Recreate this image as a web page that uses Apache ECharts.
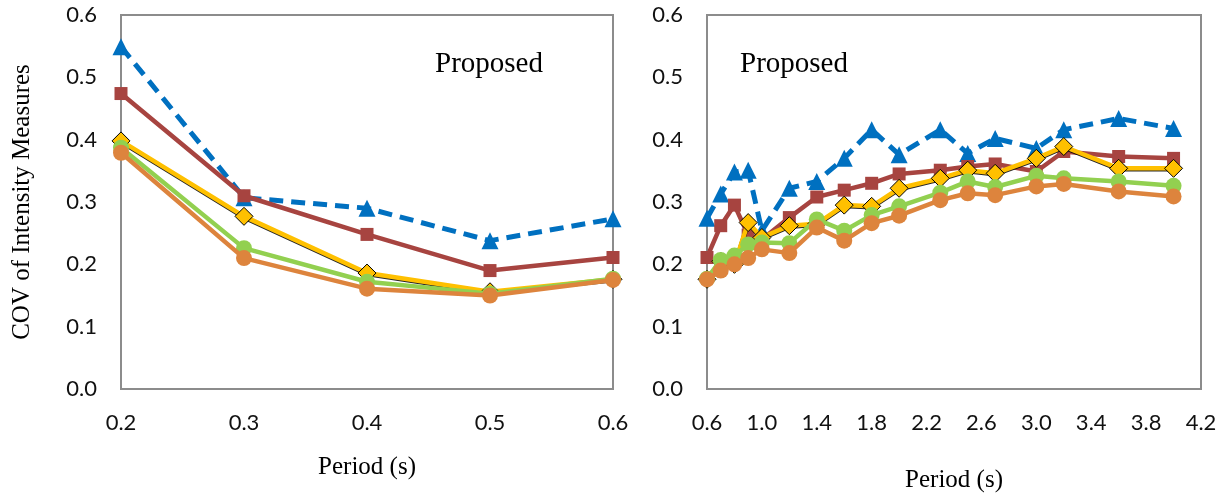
<!DOCTYPE html>
<html>
<head>
<meta charset="utf-8">
<script src="https://cdn.jsdelivr.net/npm/echarts@6/dist/echarts.min.js"></script>
<style>
  html, body { margin: 0; padding: 0; background: #fff; }
  #chart { width: 1224px; height: 494px; }
</style>
</head>
<body>
<div id="chart"></div>
<script>
// COV of intensity measures vs period, two panels
var periodsL = [0.2, 0.3, 0.4, 0.5, 0.6];
var periodsR = [0.6, 0.7, 0.8, 0.9, 1.0, 1.2, 1.4, 1.6, 1.8, 2.0, 2.3, 2.5, 2.7, 3.0, 3.2, 3.6, 4.0];

var blueL   = [0.549, 0.307, 0.290, 0.238, 0.273];
var redL    = [0.474, 0.310, 0.248, 0.190, 0.211];
var yellowL = [0.398, 0.277, 0.186, 0.156, 0.176];
var greenL  = [0.387, 0.226, 0.172, 0.153, 0.177];
var orangeL = [0.379, 0.210, 0.161, 0.150, 0.175];

var blueR   = [0.274, 0.313, 0.348, 0.351, 0.254, 0.322, 0.333, 0.370, 0.416, 0.376, 0.416, 0.378, 0.402, 0.386, 0.416, 0.434, 0.418];
var redR    = [0.211, 0.262, 0.295, 0.247, 0.240, 0.275, 0.308, 0.319, 0.330, 0.345, 0.351, 0.357, 0.361, 0.349, 0.381, 0.373, 0.370];
var yellowR = [0.176, 0.205, 0.200, 0.267, 0.243, 0.262, 0.265, 0.295, 0.293, 0.322, 0.338, 0.351, 0.346, 0.370, 0.389, 0.354, 0.354];
var greenR  = [0.177, 0.207, 0.214, 0.232, 0.235, 0.234, 0.272, 0.254, 0.279, 0.293, 0.315, 0.333, 0.324, 0.342, 0.338, 0.333, 0.326];
var orangeR = [0.176, 0.190, 0.200, 0.210, 0.224, 0.218, 0.259, 0.238, 0.266, 0.278, 0.303, 0.314, 0.311, 0.325, 0.329, 0.317, 0.309];

var blue = '#0070C0', red = '#A74440', yellow = '#FFC000', green = '#92D050', orange = '#DD843D';
var frame = '#8c8c8c';
var labelFont = 'Lato';
var serif = 'Liberation Serif';

function pairs(xs, ys) {
  return xs.map(function(x, i) { return [x, ys[i]]; });
}

function styles() {
  return [
    { name: 'IM 1', color: blue, symbol: 'triangle', size: 17, dash: [14, 8], width: 5 },
    { name: 'IM 2', color: red, symbol: 'rect', size: 13, width: 4.5 },
    { name: 'IM 3', color: yellow, symbol: 'diamond', size: 18, width: 4.5, border: '#000' },
    { name: 'IM 4', color: green, symbol: 'circle', size: 16, width: 4.5 },
    { name: 'IM 5', color: orange, symbol: 'circle', size: 16, width: 4.5 }
  ];
}

function makeSeries(idx, xs, sets) {
  return styles().map(function(s, i) {
    return {
      name: s.name,
      type: 'line',
      xAxisIndex: idx,
      yAxisIndex: idx,
      data: pairs(xs, sets[i]),
      symbol: s.symbol,
      symbolSize: s.size,
      showAllSymbol: true,
      z: 2 + i,
      lineStyle: {
        color: s.color,
        width: s.width,
        type: s.dash || 'solid',
        shadowColor: s.border ? 'rgba(0,0,0,0.85)' : 'transparent',
        shadowBlur: 0,
        shadowOffsetY: s.border ? 1 : 0
      },
      itemStyle: {
        color: s.color,
        borderColor: s.border || s.color,
        borderWidth: s.border ? 1 : 0
      }
    };
  });
}

function yAxisFor(idx, name) {
  return {
    type: 'value',
    gridIndex: idx,
    min: 0, max: 0.6, interval: 0.1,
    name: name,
    nameLocation: 'middle',
    nameGap: 86,
    nameTextStyle: { fontFamily: serif, fontSize: 25, color: '#000' },
    axisLine: { show: false },
    axisTick: { show: false },
    splitLine: { show: false },
    axisLabel: {
      color: '#111', fontFamily: labelFont, fontSize: 22, margin: 24,
      formatter: function(v) { return v.toFixed(1); }
    }
  };
}

function xAxisFor(idx, min, max, step, gap) {
  return {
    type: 'value',
    gridIndex: idx,
    min: min, max: max, interval: step,
    name: 'Period (s)',
    nameLocation: 'middle',
    nameGap: gap,
    nameTextStyle: { fontFamily: serif, fontSize: 25, color: '#000' },
    axisLine: { show: false },
    axisTick: { show: false },
    splitLine: { show: false },
    axisLabel: {
      color: '#111', fontFamily: labelFont, fontSize: 22, margin: 23,
      formatter: function(v) { return v.toFixed(1); }
    }
  };
}

var chart = echarts.init(document.getElementById('chart'));
chart.setOption({
  animation: false,
  backgroundColor: '#fff',
  grid: [
    { left: 121, top: 15, width: 492, height: 374, outerBoundsMode: 'none', containLabel: false,
      show: true, borderColor: frame, borderWidth: 2, backgroundColor: '#fff' },
    { left: 707, top: 15, width: 494, height: 374, outerBoundsMode: 'none', containLabel: false,
      show: true, borderColor: frame, borderWidth: 2, backgroundColor: '#fff' }
  ],
  xAxis: [
    xAxisFor(0, 0.2, 0.6, 0.1, 66),
    xAxisFor(1, 0.6, 4.2, 0.4, 79)
  ],
  yAxis: [
    yAxisFor(0, 'COV of Intensity Measures'),
    yAxisFor(1, '')
  ],
  graphic: [
    { type: 'text', left: 435, top: 50, style: { text: 'Proposed', font: '29px "Liberation Serif"', fill: '#000' } },
    { type: 'text', left: 740, top: 50, style: { text: 'Proposed', font: '29px "Liberation Serif"', fill: '#000' } }
  ],
  series: makeSeries(0, periodsL, [blueL, redL, yellowL, greenL, orangeL])
    .concat(makeSeries(1, periodsR, [blueR, redR, yellowR, greenR, orangeR]))
});
</script>
</body>
</html>
